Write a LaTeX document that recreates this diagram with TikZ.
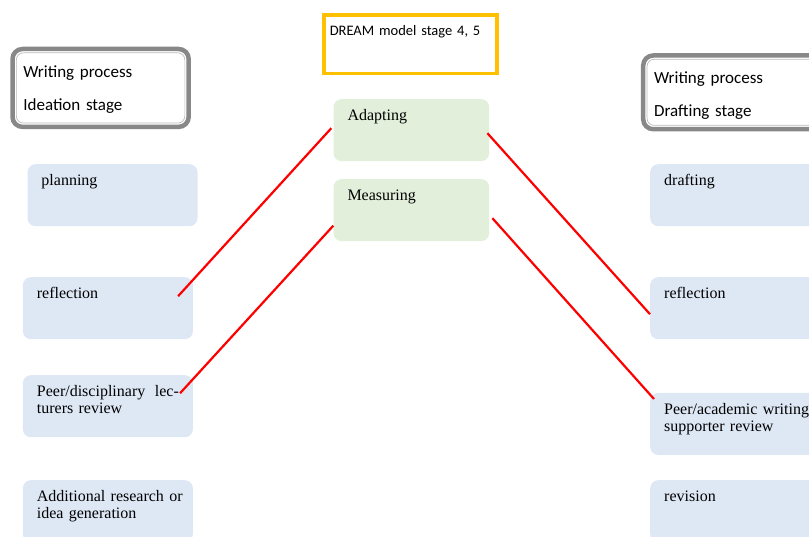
\documentclass[tikz,border=0pt]{standalone}
\usepackage{fontspec}
\setmainfont{Liberation Serif}
\newfontfamily\calfont{Carlito}
\usetikzlibrary{fit}

\definecolor{cellblue}{RGB}{222,232,245}
\definecolor{cellgreen}{RGB}{226,239,218}
\definecolor{dreamorange}{RGB}{255,192,0}
\definecolor{framegray}{RGB}{136,136,136}

\tikzset{
  cell/.style={anchor=north west, rounded corners=8pt, inner xsep=14pt, inner ysep=6pt,
    text width=142pt, text height=15.5pt, text depth=34.5pt, align=left,
    font=\fontsize{16}{16.7}\selectfont},
  phase/.style={cell, fill=cellblue},
  act/.style={cell, fill=cellgreen, text width=127.7pt},
  headbox/.style={anchor=north west, draw=gray!55, line width=0.7pt, rounded corners=7pt,
    inner xsep=7pt, inner ysep=6pt, text width=154.5pt, align=left,
    font=\calfont\fontsize{17}{33}\selectfont},
  headframe/.style={draw=framegray, line width=4.5pt, rounded corners=10pt, inner sep=3.5pt},
  dreambox/.style={anchor=north west, draw=dreamorange, line width=3.5pt,
    inner xsep=6pt, inner ysep=5pt, text width=161pt, text height=15.5pt, text depth=33pt,
    align=left, font=\calfont\fontsize{14.5}{18}\selectfont},
  link/.style={draw=red, line width=2.2pt}
}

\begin{document}
\begin{tikzpicture}[x=1pt,y=-1pt]
\useasboundingbox (0,0) rectangle (809,537);

% stage headers
\node[headbox, text height=18.5pt, text depth=39.7pt] (lhead) at (16,52.5) {Writing process\\Ideation stage};
\node[headframe, fit=(lhead)] (lframe) {};
\node[headbox, text height=18pt, text depth=36pt] (rhead) at (646.7,59) {Writing process\\Drafting stage};
\node[headframe, fit=(rhead)] (rframe) {};

\node[dreambox] (dream) at (322,13.5) {DREAM model stage 4, 5};

% DREAM activities
\node[act] (adapt) at (333.3,99) {Adapting};
\node[act] (meas) at (333.3,179) {Measuring};

% ideation stage
\node[phase] (lplan) at (27.3,164) {planning};
\node[phase] (lrefl) at (22.7,277) {reflection};
\node[phase] (lpeer) at (22.7,375) {Peer/disciplinary\hfill lec-\\turers review};
\node[phase] (ladd) at (22.7,480) {\mbox{Additional research or}\\idea generation};

% drafting stage
\node[phase, text width=150pt] (rdraft) at (650,164) {drafting};
\node[phase, text width=150pt] (rrefl) at (650,277) {reflection};
\node[phase, text width=150pt] (rpeer) at (650,392.7) {Peer/academic writing\\supporter review};
\node[phase, text width=150pt] (rrev) at (650,480) {revision};

% links
\draw[link] ([xshift=-15pt,yshift=12pt]lrefl.east) -- ([xshift=-2pt,yshift=2pt]adapt.west);
\draw[link] ([xshift=-13pt,yshift=13pt]lpeer.east) -- ([yshift=-15.5pt]meas.west);
\draw[link] ([xshift=-2pt,yshift=-3pt]adapt.east) -- ([yshift=-6pt]rrefl.west);
\draw[link] ([xshift=3pt,yshift=-8pt]meas.east) -- ([xshift=4pt,yshift=-6.3pt]rpeer.north west);
\end{tikzpicture}
\end{document}
